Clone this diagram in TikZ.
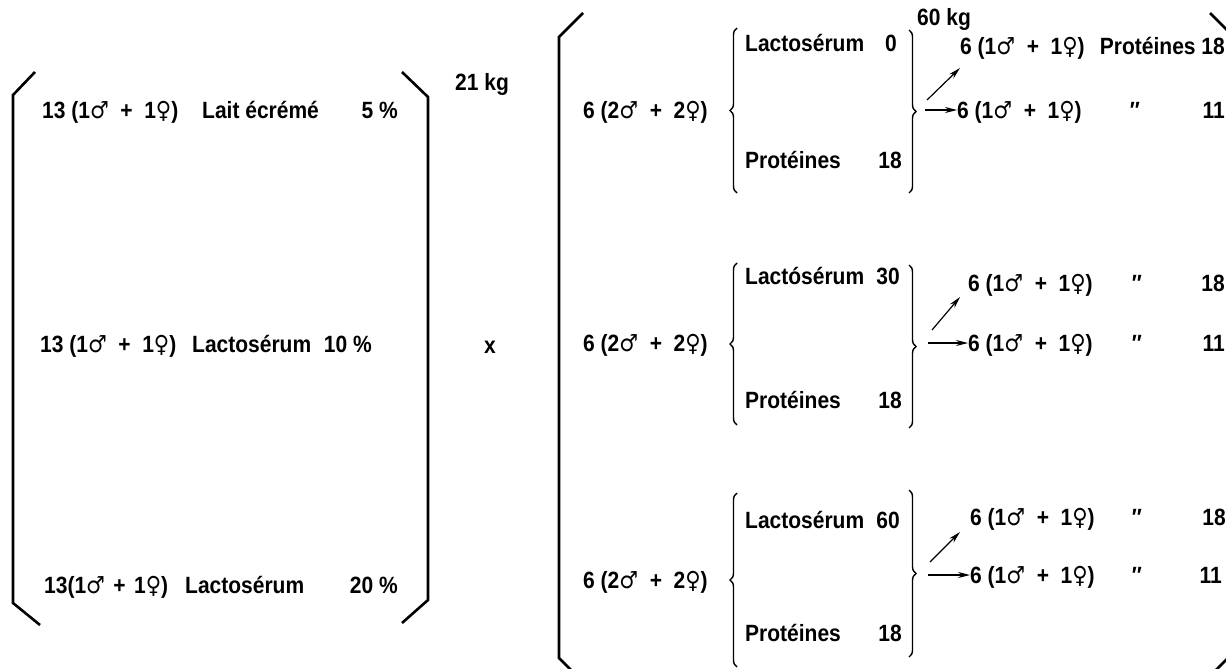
\documentclass[tikz,border=0pt]{standalone}
\usepackage{fontspec}
\setmainfont{Liberation Sans}
\newfontfamily\symf{DejaVu Sans}
\usetikzlibrary{decorations.pathreplacing,arrows.meta,calc}
\newcommand\fsz{\fontsize{21}{25}\selectfont\bfseries}
\newcommand\T[1]{\scalebox{1}[1.12]{#1}}
\newcommand\Ma{{\symf\bfseries ♂}}
\newcommand\Fe{{\symf\bfseries ♀}}
\newcommand\Pl{\hspace{0.55em}+\hspace{0.55em}}
\tikzset{
  txt/.style={inner sep=0pt, text height=17pt, text depth=0pt, font=\fsz},
  bracket/.style={line width=2.6pt, line join=miter},
  cbrace/.style={line width=1.4pt, decorate, decoration={brace, amplitude=7pt}},
  arr/.style={line width=1.2pt, -{Stealth[length=12pt,width=6pt]}},
}
\begin{document}
\begin{tikzpicture}[x=1pt,y=-1pt]
\useasboundingbox (0,0) rectangle (1226,669);
\clip (0,0) rectangle (1226,669);

% left bracket
\draw[bracket] (35,72) -- (13,95) -- (13,603) -- (40,625);
\draw[bracket] (402,72) -- (428,97) -- (428,600) -- (402,623);

% left column
\node[txt,anchor=west] (a1) at (42,110) {\T{13 (1\Ma\Pl1\Fe)}};
\node[txt,anchor=west] (a2) at (202,110) {\T{Lait écrémé}};
\node[txt,anchor=east] (a3) at (398,110) {\T{5 \%}};
\node[txt,anchor=west] (b1) at (40,344) {\T{13 (1\Ma\Pl1\Fe)}};
\node[txt,anchor=west] (b2) at (192,344) {\T{Lactosérum}};
\node[txt,anchor=east] (b3) at (372,344) {\T{10 \%}};
\node[txt,anchor=west] (c1) at (44,585) {\T{13(1\Ma\hspace{0.4em}+\hspace{0.4em}1\Fe)}};
\node[txt,anchor=west] (c2) at (185,585) {\T{Lactosérum}};
\node[txt,anchor=east] (c3) at (398,585) {\T{20 \%}};

\node[txt,anchor=west] (kg21) at (455,82) {\T{21 kg}};
\node[txt] (times) at (490,345) {\T{x}};

% big bracket
\draw[bracket] (583,13) -- (559,37) -- (559,658) -- (584,683);
\draw[bracket] (1210,13) -- (1234,37) -- (1234,652) -- (1215,671);

% groups
\node[txt,anchor=west] (g1) at (583,110) {\T{6 (2\Ma\Pl2\Fe)}};
\node[txt,anchor=west] (g2) at (583,343) {\T{6 (2\Ma\Pl2\Fe)}};
\node[txt,anchor=west] (g3) at (583,580) {\T{6 (2\Ma\Pl2\Fe)}};

\draw[cbrace] (737,193) -- (737,28);
\draw[cbrace] (737,425) -- (737,263);
\draw[cbrace] (737,667) -- (737,493);
\draw[cbrace] (909,30) -- (909,193);
\draw[cbrace] (909,265) -- (909,428);
\draw[cbrace] (909,490) -- (909,657);

\node[txt,anchor=west] (l1) at (745,43) {\T{Lactosérum}};
\node[txt,anchor=east] (l1n) at (897,43) {\T{0}};
\node[txt,anchor=west] (p1) at (745,160) {\T{Protéines}};
\node[txt,anchor=east] (p1n) at (902,160) {\T{18}};
\node[txt,anchor=west] (l2) at (745,276) {\T{Lactósérum}};
\node[txt,anchor=east] (l2n) at (900,276) {\T{30}};
\node[txt,anchor=west] (p2) at (745,400) {\T{Protéines}};
\node[txt,anchor=east] (p2n) at (902,400) {\T{18}};
\node[txt,anchor=west] (l3) at (745,520) {\T{Lactosérum}};
\node[txt,anchor=east] (l3n) at (900,520) {\T{60}};
\node[txt,anchor=west] (p3) at (745,633) {\T{Protéines}};
\node[txt,anchor=east] (p3n) at (902,633) {\T{18}};

\node[txt,anchor=west] (kg60) at (917,17) {\T{60 kg}};

% outputs
\node[txt,anchor=west] (u1) at (960,46) {\T{6 (1\Ma\Pl1\Fe)}};
\node[txt,anchor=east] (u1p) at (1225,46) {\T{Protéines 18}};
\node[txt,anchor=west] (d1) at (957,110) {\T{6 (1\Ma\Pl1\Fe)}};
\node[txt] (d1q) at (1135,110) {\T{″}};
\node[txt,anchor=east] (d1n) at (1225,110) {\T{11}};

\node[txt,anchor=west] (u2) at (968,283) {\T{6 (1\Ma\Pl1\Fe)}};
\node[txt] (u2q) at (1137,283) {\T{″}};
\node[txt,anchor=east] (u2n) at (1225,283) {\T{18}};
\node[txt,anchor=west] (d2) at (968,343) {\T{6 (1\Ma\Pl1\Fe)}};
\node[txt] (d2q) at (1137,343) {\T{″}};
\node[txt,anchor=east] (d2n) at (1225,343) {\T{11}};

\node[txt,anchor=west] (u3) at (970,517) {\T{6 (1\Ma\Pl1\Fe)}};
\node[txt] (u3q) at (1137,517) {\T{″}};
\node[txt,anchor=east] (u3n) at (1226,517) {\T{18}};
\node[txt,anchor=west] (d3) at (970,575) {\T{6 (1\Ma\Pl1\Fe)}};
\node[txt] (d3q) at (1137,575) {\T{″}};
\node[txt,anchor=east] (d3n) at (1222,575) {\T{11}};

% arrows
\coordinate (s1a) at (927,100);
\coordinate (e1a) at (960,68);
\coordinate (s1b) at (925,110);
\coordinate (s2a) at (932,330);
\coordinate (e2a) at (960,297);
\coordinate (s2b) at (928,343);
\coordinate (s3a) at (930,562);
\coordinate (e3a) at (960,532);
\coordinate (s3b) at (928,575);
\draw[arr] (s1a) -- (e1a);
\draw[arr] (s1b) -- (d1.west);
\draw[arr] (s2a) -- (e2a);
\draw[arr] (s2b) -- (d2.west);
\draw[arr] (s3a) -- (e3a);
\draw[arr] (s3b) -- (d3.west);
\end{tikzpicture}
\end{document}
